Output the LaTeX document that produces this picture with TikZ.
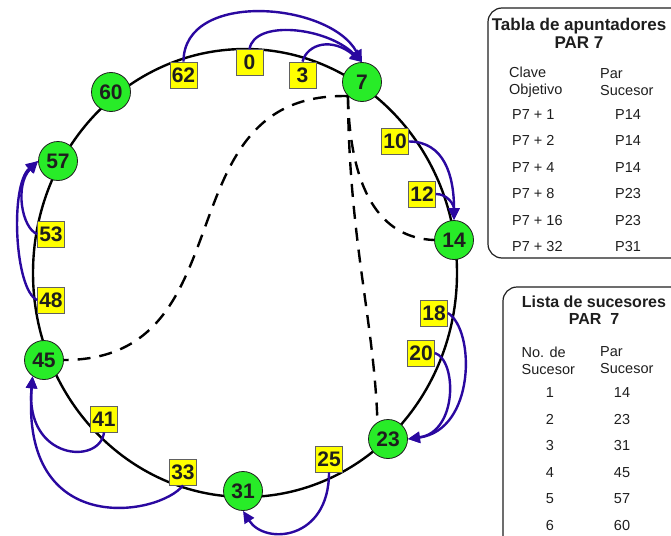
\documentclass[tikz,border=0pt]{standalone}
\usepackage{fontspec}
\setmainfont{Liberation Sans}
\usetikzlibrary{arrows.meta}
\definecolor{peergreen}{RGB}{40,236,40}
\definecolor{keyyellow}{RGB}{255,255,0}
\definecolor{linkblue}{RGB}{42,8,160}
\definecolor{inkgray}{RGB}{30,30,30}
\tikzset{
  peer/.style={circle, draw=inkgray, line width=0.8pt, fill=peergreen,
               minimum size=39pt, inner sep=0pt, text=inkgray,
               font=\fontsize{21}{21}\selectfont\bfseries},
  key/.style={rectangle, draw=inkgray!70, line width=0.8pt, fill=keyyellow,
              minimum width=27pt, minimum height=26pt, inner sep=0pt, text=inkgray,
              font=\fontsize{21}{21}\selectfont\bfseries},
  link/.style={-{Triangle[length=12pt,width=11pt]}, draw=linkblue, line width=2.4pt},
  succ/.style={line width=2.4pt, dash pattern=on 13pt off 9pt},
  cell/.style={inner sep=0pt, text=inkgray, align=left,
               font=\fontsize{14.5}{17}\selectfont},
  head/.style={inner sep=0pt, text=inkgray, align=center,
               font=\fontsize{17}{18}\selectfont\bfseries},
}

\begin{document}
\begin{tikzpicture}[x=1pt, y=-1pt]
  \useasboundingbox (0,0) rectangle (671,535);
  \clip (0,0) rectangle (671,535);

  % the ring
  \draw[line width=2.4pt] (245,273) ellipse [x radius=212, y radius=224];

  % peers
  \node[peer] (p7)  at (362,82)  {7};
  \node[peer] (p14) at (454,240) {14};
  \node[peer] (p23) at (388,439) {23};
  \node[peer] (p31) at (243,491) {31};
  \node[peer] (p45) at (44,360)  {45};
  \node[peer] (p57) at (58,161)  {57};
  \node[peer] (p60) at (111,92)  {60};

  % keys
  \node[key] (k62) at (183.5,75)  {62};
  \node[key] (k0)  at (249.5,62.5) {0};
  \node[key] (k3)  at (302.5,75)  {3};
  \node[key] (k10) at (395,141.5) {10};
  \node[key] (k12) at (422,194)   {12};
  \node[key] (k18) at (434,313)   {18};
  \node[key] (k20) at (421,353)   {20};
  \node[key] (k25) at (329,459)   {25};
  \node[key] (k33) at (183,472)   {33};
  \node[key] (k41) at (104,419)   {41};
  \node[key] (k48) at (51,300)    {48};
  \node[key] (k53) at (51,234)    {53};

  % successors of 7
  \draw[succ] (p7.225) .. controls (160,92) and (250,360) .. (p45.east);
  \draw[succ] (p7.225) .. controls (349,240) and (374,320) .. (p23.122);
  \draw[succ] (p7.225) .. controls (350,190) and (380,238) .. (p14.west);

  % keys stored at each peer
  \draw[link] (k62.north) .. controls +(0,-72) and +(-32,-60) .. (p7.north);
  \draw[link] (k0.north) .. controls +(5,-30) and +(-35,-35) .. (p7.north);
  \draw[link] (k3.north) .. controls +(5,-18) and +(-30,-25) .. (p7.north);
  \draw[link] (k10.east) .. controls +(35,0) and +(0,-45) .. (p14.north);
  \draw[link] (k12.east) .. controls +(12,0) and +(0,-15) .. (p14.north);
  \draw[link] (k18.east) .. controls +(27.5,17) and +(67.5,-9) .. (p23.east);
  \draw[link] (k20.east) .. controls +(22,7) and +(50,-7) .. (p23.east);
  \draw[link] (k25.south) .. controls +(0,68) and +(22,34.5) .. (p31.south);
  \draw[link] (k33.south) .. controls +(-23,30) and +(-12.8,164) .. (p45.235);
  \draw[link] (k41.south) .. controls +(-4,33) and +(-7.8,84) .. (p45.235);
  \draw[link] (k48.west) .. controls +(-22.5,-10) and +(-28.5,24) .. (p57.west);
  \draw[link] (k53.west) .. controls +(-15.5,-6) and +(-23.5,24) .. (p57.west);

  % finger table
  \draw[line width=1.2pt, inkgray, rounded corners=14pt] (488,8) rectangle (700,258);
  \node[head] (ftitle) at (579,33) {Tabla de apuntadores\\PAR 7};
  \node[cell, anchor=west] (fh1) at (509,82.5) {Clave\\Objetivo};
  \node[cell, anchor=west] (fh2) at (600,82.5) {Par\\Sucesor};
  \foreach \k/\p [count=\i from 0] in {1/14,2/14,4/14,8/23,16/23,32/31} {
    \node[cell, anchor=west] (fk\i) at (512,{114.5+26.4*\i}) {P7 + \k};
    \node[cell, anchor=west] (fp\i) at (615,{114.5+26.4*\i}) {P\p};
  }

  % successor list
  \draw[line width=1.2pt, inkgray, rounded corners=14pt] (503,287) rectangle (700,560);
  \node[head, font=\fontsize{16}{17.5}\selectfont\bfseries] (stitle) at (594,310)
    {Lista de sucesores\\PAR\ \ 7};
  \node[cell, anchor=west] (sh1) at (521.5,360.5) {No. de\\Sucesor};
  \node[cell, anchor=west] (sh2) at (600,360.5) {Par\\Sucesor};
  \foreach \p [count=\i] in {14,23,31,45,57,60} {
    \node[cell] (sn\i) at (550,{393+26.5*(\i-1)}) {\i};
    \node[cell] (sp\i) at (622,{393+26.5*(\i-1)}) {\p};
  }
\end{tikzpicture}
\end{document}
